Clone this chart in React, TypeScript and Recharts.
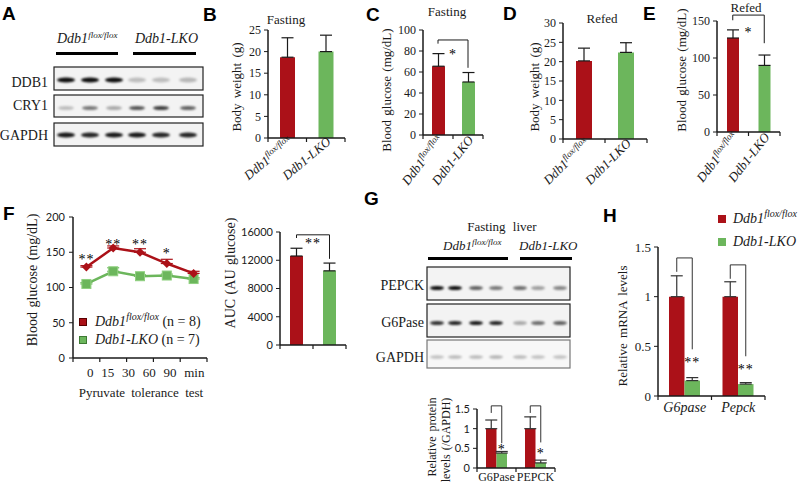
import React from 'react';
import {
  BarChart, Bar, Cell, XAxis, YAxis, ErrorBar, ReferenceLine, ComposedChart, Line, Legend,
} from 'recharts';

const RED = '#ab1118';
const GREEN = '#6cb65c';
const INK = '#1a1a1a';
const SERIF = '"Liberation Serif", "Times New Roman", serif';
const SANS = 'Lato, "Open Sans", "Liberation Sans", sans-serif';
const BOLD = '"Liberation Sans", Arial, sans-serif';

// ---------------- data ----------------
const genotypeBase = ['Ddb1', 'Ddb1-LKO'];
const genotypeSup = ['flox/flox', ''];

const fastingWeight = [18.7, 20.0];
const fastingWeightErr = [4.5, 3.8];
const fastingGlucose = [65.5, 50.5];
const fastingGlucoseErr = [12, 9];
const refedWeight = [20.2, 22.4];
const refedWeightErr = [3.3, 2.5];
const refedGlucose = [127, 90];
const refedGlucoseErr = [11, 14];

const weightTicks = [0, 5, 10, 15, 20, 25];
const weightTicksRefed = [0, 5, 10, 15, 20, 25, 30];
const glucoseTicksFasting = [0, 20, 40, 60, 80, 100];
const glucoseTicksRefed = [0, 50, 100, 150];

const pttMinutes = ['0', '15', '30', '60', '90'];
const pttFlox = [129, 156, 150, 134, 120];
const pttFloxErr = [2, 3, 5, 6, 3];
const pttLko = [105, 123, 116, 117, 112];
const pttLkoErr = [2, 5, 2, 2, 2];
const pttStars = ['**', '**', '**', '*', ''];
const pttStarLevel = [143, 164, 164, 151, null];
const pttGroupN = [8, 7];
const pttTicks = [0, 50, 100, 150, 200];

const aucGlucose = [12600, 10500];
const aucGlucoseErr = [1100, 1100];
const aucTicks = [0, 4000, 8000, 12000, 16000];

const proteinGenes = ['G6Pase', 'PEPCK'];
const proteinFlox = [1.0, 1.0];
const proteinFloxErr = [0.22, 0.3];
const proteinLko = [0.38, 0.13];
const proteinLkoErr = [0.04, 0.07];

const mrnaGenes = ['G6pase', 'Pepck'];
const mrnaFlox = [1.0, 1.0];
const mrnaFloxErr = [0.21, 0.15];
const mrnaLko = [0.155, 0.12];
const mrnaLkoErr = [0.03, 0.015];
const relTicks = [0, 0.5, 1, 1.5];

// significance brackets (data units)
const fastingGlucoseSig = { top: 90.5, left: 87, right: 64, mark: '*' };
const refedGlucoseSig = { top: 158, left: 151, right: 120, mark: '*' };
const aucSig = { top: 15600, left: 15150, right: 12200, mark: '**' };
const proteinSig = [
  { top: 1.58, left: 1.4, right: 0.63, mark: '*', level: 0.52 },
  { top: 1.58, left: 1.4, right: 0.65, mark: '*', level: 0.41 },
];
const mrnaSig = [
  { top: 1.39, left: 1.25, right: 0.47, mark: '**', level: 0.36 },
  { top: 1.32, left: 1.18, right: 0.4, mark: '**', level: 0.29 },
];

// western blot band intensities (0..1)
const ddb1Bands = [0.95, 0.95, 0.95, 0.22, 0.22, 0.25];
const cry1Bands = [0.22, 0.5, 0.3, 0.65, 0.75, 0.6];
const gapdhBandsA = [0.9, 0.85, 0.9, 0.9, 0.85, 0.85];
const pepckBands = [0.95, 0.95, 0.6, 0.5, 0.55, 0.35, 0.45];
const g6paseBands = [0.8, 0.85, 0.9, 0.85, 0.3, 0.55, 0.6];
const gapdhBandsG = [0.22, 0.25, 0.25, 0.28, 0.25, 0.22, 0.22];

// ---------------- helpers ----------------
const STAR_FILL = '#000';

function StarMark(props: any) {
  const vb = props.viewBox || {};
  const cx = (vb.x || 0) + (vb.width || 0) / 2;
  const cy = (vb.y || 0) + props.gap;
  return (
    <text x={cx} y={cy + 6.6} textAnchor="middle" fontFamily={SERIF} fontSize={14} fill={STAR_FILL} letterSpacing={1}>
      {props.mark}
    </text>
  );
}

function makeCatTick(o: { n: number; band: number; angle: number; labels: boolean; dx: number; dy: number }) {
  return function CatTick(props: any) {
    const { x, y, payload, index } = props;
    const half = typeof payload?.offset === 'number' && payload.offset > 0 ? payload.offset : o.band / 2;
    const i = index ?? 0;
    const tx = x + o.dx;
    const ty = y + o.dy;
    return (
      <g>
        <line x1={x - half} x2={x - half} y1={y} y2={y + 4} stroke={INK} strokeWidth={1.2} />
        {i === o.n - 1 && <line x1={x + half} x2={x + half} y1={y} y2={y + 4} stroke={INK} strokeWidth={1.2} />}
        {o.labels && (
          <text x={tx} y={ty} transform={`rotate(${o.angle} ${tx} ${ty})`} textAnchor="end"
            fontFamily={SERIF} fontStyle="italic" fontSize={13} fill={INK}>
            <tspan>{genotypeBase[i]}</tspan>
            {genotypeSup[i] ? <tspan fontSize={9} dy={-5}>{genotypeSup[i]}</tspan> : null}
          </text>
        )}
      </g>
    );
  };
}

function makeGeneTick(o: { n: number; band: number; italic: boolean; size: number; dy: number }) {
  return function GeneTick(props: any) {
    const { x, y, payload, index } = props;
    const half = typeof payload?.offset === 'number' && payload.offset > 0 ? payload.offset : o.band / 2;
    const i = index ?? 0;
    return (
      <g>
        <line x1={x - half} x2={x - half} y1={y} y2={y + 4} stroke={INK} strokeWidth={1.2} />
        {i === o.n - 1 && <line x1={x + half} x2={x + half} y1={y} y2={y + 4} stroke={INK} strokeWidth={1.2} />}
        <text x={x} y={y + o.dy} textAnchor="middle" fontFamily={SERIF} fontStyle={o.italic ? 'italic' : 'normal'}
          fontSize={o.size} fill={INK}>{payload.value}</text>
      </g>
    );
  };
}

type TwoProps = {
  L: number; T: number; R: number; B: number; yw: number;
  values: number[]; errs: number[]; domain: [number, number]; ticks: number[];
  tickFamily: string; tickFont: number; barSize: number; angle: number; labels: boolean;
  sig?: { top: number; left: number; right: number; mark: string }; sigGap?: number;
};

function TwoBarChart(p: TwoProps) {
  const mt = 24, mr = 6, xh = 70;
  const data = genotypeBase.map((g, i) => ({ g, v: p.values[i], e: [0, p.errs[i]] }));
  const band = (p.R - p.L) / 2;
  const g0 = genotypeBase[0], g1 = genotypeBase[1];
  return (
    <div style={{ position: 'absolute', left: p.L - p.yw, top: p.T - mt }}>
      <BarChart width={p.yw + p.R - p.L + mr} height={mt + p.B - p.T + xh} data={data}
        margin={{ top: mt, right: mr, left: 0, bottom: 0 }} barSize={p.barSize}>
        <XAxis dataKey="g" height={xh} tickSize={0} tickMargin={0} interval={0} tickLine={false}
          axisLine={{ stroke: INK, strokeWidth: 1.5 }}
          tick={makeCatTick({ n: 2, band, angle: p.angle, labels: p.labels, dx: 6, dy: 5 })} />
        <YAxis width={p.yw} domain={p.domain} ticks={p.ticks} interval={0} tickSize={4} tickMargin={3}
          axisLine={{ stroke: INK, strokeWidth: 1.5 }} tickLine={{ stroke: INK }}
          tick={{ fill: INK, fontFamily: p.tickFamily, fontSize: p.tickFont }} />
        <Bar dataKey="v" isAnimationActive={false}>
          {data.map((d, i) => <Cell key={d.g} fill={i === 0 ? RED : GREEN} />)}
          <ErrorBar dataKey="e" width={6} stroke={INK} strokeWidth={1.2} direction="y" />
        </Bar>
        {p.sig && (
          <ReferenceLine segment={[{ x: g0, y: p.sig.top }, { x: g1, y: p.sig.top }]} stroke={INK} strokeWidth={1}
            ifOverflow="visible" label={<StarMark mark={p.sig.mark} gap={p.sigGap ?? 10} />} />
        )}
        {p.sig && (
          <ReferenceLine segment={[{ x: g0, y: p.sig.top }, { x: g0, y: p.sig.left }]} stroke={INK} strokeWidth={1}
            ifOverflow="visible" />
        )}
        {p.sig && (
          <ReferenceLine segment={[{ x: g1, y: p.sig.top }, { x: g1, y: p.sig.right }]} stroke={INK} strokeWidth={1}
            ifOverflow="visible" />
        )}
      </BarChart>
    </div>
  );
}

function BracketBar(props: any) {
  const { x, y, width, height, fill, payload } = props;
  if (x == null || y == null || !payload) return null;
  const val = payload.lko;
  const base = y + height;
  const ppu = height / val;
  const Y = (v: number) => base - v * ppu;
  const lx = x - width / 2;
  const rx = x + width / 2;
  const s = payload.sig;
  return (
    <g>
      <rect x={x} y={y} width={width} height={height} fill={fill} />
      <path d={`M${lx},${Y(s.left)}V${Y(s.top)}H${rx}V${Y(s.right)}`} fill="none" stroke="#333" strokeWidth={1} />
      <text x={rx} y={Y(s.level) + 6.6} textAnchor="middle" fontFamily={SERIF} fontSize={14} fill={STAR_FILL} letterSpacing={1}>
        {s.mark}
      </text>
    </g>
  );
}

type GroupProps = {
  L: number; T: number; R: number; B: number; yw: number; mt: number;
  cats: string[]; flox: number[]; floxErr: number[]; lko: number[]; lkoErr: number[];
  sig: any[]; tickFamily: string; tickFont: number; barSize: number;
  italic: boolean; catSize: number; catDy: number; legend?: boolean;
};

function GroupChart(p: GroupProps) {
  const mr = 6, xh = 24;
  const data = p.cats.map((c, i) => ({
    c, flox: p.flox[i], lko: p.lko[i], fe: [0, p.floxErr[i]], le: [0, p.lkoErr[i]], sig: p.sig[i],
  }));
  const band = (p.R - p.L) / p.cats.length;
  return (
    <div style={{ position: 'absolute', left: p.L - p.yw, top: p.T - p.mt }}>
      <BarChart width={p.yw + p.R - p.L + mr} height={p.mt + p.B - p.T + xh} data={data}
        margin={{ top: p.mt, right: mr, left: 0, bottom: 0 }} barSize={p.barSize} barGap={0}>
        <XAxis dataKey="c" height={xh} tickSize={0} tickMargin={0} interval={0} tickLine={false}
          axisLine={{ stroke: INK, strokeWidth: 1.5 }}
          tick={makeGeneTick({ n: p.cats.length, band, italic: p.italic, size: p.catSize, dy: p.catDy })} />
        <YAxis width={p.yw} domain={[0, 1.5]} ticks={relTicks} interval={0} tickSize={4} tickMargin={3}
          axisLine={{ stroke: INK, strokeWidth: 1.5 }} tickLine={{ stroke: INK }}
          tick={{ fill: INK, fontFamily: p.tickFamily, fontSize: p.tickFont }} />
        <Bar dataKey="flox" fill={RED} isAnimationActive={false}>
          <ErrorBar dataKey="fe" width={6} stroke="#333" strokeWidth={1.2} direction="y" />
        </Bar>
        <Bar dataKey="lko" fill={GREEN} isAnimationActive={false} shape={(sp: any) => <BracketBar {...sp} />}>
          <ErrorBar dataKey="le" width={6} stroke="#333" strokeWidth={1.2} direction="y" />
        </Bar>
        {p.legend && (
          <Legend layout="vertical" align="center" verticalAlign="middle"
            wrapperStyle={{ left: 90, top: 0, width: 110 }} content={() => <MrnaLegend />} />
        )}
      </BarChart>
    </div>
  );
}

function GenoHtml({ i }: { i: number }) {
  return (
    <span style={{ fontStyle: 'italic', fontWeight: 'normal', fontFamily: SERIF }}>
      {genotypeBase[i]}
      {genotypeSup[i] ? <span style={{ fontSize: 10, position: 'relative', top: -6 }}>{genotypeSup[i]}</span> : null}
    </span>
  );
}

function MrnaLegend() {
  return (
    <div style={{ fontFamily: SERIF, fontSize: 14, color: INK, fontWeight: 'normal' }}>
      {[RED, GREEN].map((c, i) => (
        <div key={c} style={{ display: 'flex', alignItems: 'center', height: 23 }}>
          <span style={{ display: 'inline-block', width: 8, height: 8, background: c, marginRight: 7 }} />
          <GenoHtml i={i} />
        </div>
      ))}
    </div>
  );
}

function PttLegend() {
  return (
    <div style={{ fontFamily: SERIF, fontSize: 14, color: INK, whiteSpace: 'nowrap' }}>
      {[RED, GREEN].map((c, i) => (
        <div key={c} style={{ display: 'flex', alignItems: 'center', height: 18 }}>
          <span style={{ display: 'inline-block', width: 6, height: 6, background: c,
            border: `1px solid ${i === 0 ? '#5a0000' : '#3e7a33'}`, marginRight: 8 }} />
          <GenoHtml i={i} />
          <span>&nbsp;(n = {pttGroupN[i]})</span>
        </div>
      ))}
    </div>
  );
}

function DiamondDot(props: any) {
  const { cx, cy } = props;
  if (cx == null || cy == null) return null;
  const r = 4.5;
  return <path d={`M${cx},${cy - r}L${cx + r},${cy}L${cx},${cy + r}L${cx - r},${cy}Z`} fill={RED} />;
}

function SquareDot(props: any) {
  const { cx, cy } = props;
  if (cx == null || cy == null) return null;
  return <rect x={cx - 4.5} y={cy - 4.5} width={9} height={9} fill={GREEN} stroke="#8fd07f" strokeWidth={1} />;
}

function StarDot(props: any) {
  const { cx, cy, payload } = props;
  if (cx == null || cy == null || !payload?.star) return null;
  return (
    <text x={cx} y={cy + 6.6} textAnchor="middle" fontFamily={SERIF} fontSize={14} fill={STAR_FILL} letterSpacing={1}>
      {payload.star}
    </text>
  );
}

function PttChart() {
  const L = 73, R = 207, T = 217, B = 358, yw = 40, mt = 20, mr = 6, xh = 20;
  const data = pttMinutes.map((t, i) => ({
    t, flox: pttFlox[i], fe: [0, pttFloxErr[i]], lko: pttLko[i], le: [0, pttLkoErr[i]],
    star: pttStars[i], starY: pttStarLevel[i],
  }));
  const band = (R - L) / pttMinutes.length;
  const tick = (props: any) => {
    const { x, y, payload, index } = props;
    const half = typeof payload?.offset === 'number' && payload.offset > 0 ? payload.offset : band / 2;
    return (
      <g>
        <line x1={x - half} x2={x - half} y1={y} y2={y + 4} stroke={INK} strokeWidth={1.2} />
        {index === pttMinutes.length - 1 && <line x1={x + half} x2={x + half} y1={y} y2={y + 4} stroke={INK} strokeWidth={1.2} />}
      </g>
    );
  };
  return (
    <div style={{ position: 'absolute', left: L - yw, top: T - mt }}>
      <ComposedChart width={yw + R - L + mr} height={mt + B - T + xh} data={data}
        margin={{ top: mt, right: mr, left: 0, bottom: 0 }}>
        <XAxis dataKey="t" scale="band" height={xh} tickSize={0} tickMargin={0} interval={0} tickLine={false}
          axisLine={{ stroke: INK, strokeWidth: 1.5 }} tick={tick} />
        <YAxis width={yw} domain={[0, 200]} ticks={pttTicks} interval={0} tickSize={4} tickMargin={4}
          axisLine={{ stroke: INK, strokeWidth: 1.5 }} tickLine={{ stroke: INK }}
          tick={{ fill: INK, fontFamily: SANS, fontSize: 11 }} />
        <Line dataKey="lko" stroke={GREEN} strokeWidth={2.5} dot={<SquareDot />} activeDot={false}
          isAnimationActive={false} legendType="none">
          <ErrorBar dataKey="le" width={6} stroke={GREEN} strokeWidth={1.2} direction="y" />
        </Line>
        <Line dataKey="flox" stroke={RED} strokeWidth={2.5} dot={<DiamondDot />} activeDot={false}
          isAnimationActive={false} legendType="none">
          <ErrorBar dataKey="fe" width={6} stroke={RED} strokeWidth={1.2} direction="y" />
        </Line>
        <Line dataKey="starY" stroke="none" dot={<StarDot />} activeDot={false} isAnimationActive={false}
          legendType="none" />
        <Legend layout="vertical" align="center" verticalAlign="middle"
          wrapperStyle={{ left: 46, top: 116, width: 170 }} content={() => <PttLegend />} />
      </ComposedChart>
    </div>
  );
}

// ---------------- overlay (labels, blots) ----------------
function VLabel({ cx, cy, size = 13, family = SERIF, ws = 2, children }: any) {
  return (
    <text transform={`rotate(-90 ${cx} ${cy})`} x={cx} y={cy} textAnchor="middle" dominantBaseline="central"
      fontFamily={family} fontSize={size} fill={INK} style={{ wordSpacing: ws }}>{children}</text>
  );
}

function Blot({ x, y, w, h, lanes, bandY, bands, rx, ry, border = '#222', bg = '#f3f3f3' }: any) {
  return (
    <g>
      <rect x={x} y={y} width={w} height={h} fill={bg} stroke={border} strokeWidth={1.2} />
      <g filter="url(#bandBlur)">
        {lanes.map((lx: number, i: number) => (
          <ellipse key={i} cx={lx} cy={bandY} rx={rx} ry={ry} fill="#000" opacity={bands[i]} />
        ))}
      </g>
    </g>
  );
}

function Letter({ x, y, c }: any) {
  return <text x={x} y={y} fontFamily={BOLD} fontWeight="bold" fontSize={19} fill="#000">{c}</text>;
}

function GenoSvg({ x, y, i, size = 14, sup = 9, anchor = 'start' }: any) {
  return (
    <text x={x} y={y} fontFamily={SERIF} fontStyle="italic" fontSize={size} fill={INK} textAnchor={anchor}>
      <tspan>{genotypeBase[i]}</tspan>
      {genotypeSup[i] ? <tspan fontSize={sup} dy={-5}>{genotypeSup[i]}</tspan> : null}
    </text>
  );
}

function Overlay() {
  const lanesA = [66, 90, 114, 137, 161, 188];
  const lanesG = [437, 455, 476, 496, 520, 538, 560];
  const lbl = { fontFamily: SERIF, fontSize: 14, fill: INK } as any;
  return (
    <svg width={799} height={485} style={{ position: 'absolute', left: 0, top: 0, pointerEvents: 'none' }}>
      <defs>
        <filter id="bandBlur" x="-50%" y="-100%" width="200%" height="300%">
          <feGaussianBlur stdDeviation="1.3" />
        </filter>
      </defs>

      <Letter x={2} y={20} c="A" />
      <Letter x={203} y={21} c="B" />
      <Letter x={366} y={21} c="C" />
      <Letter x={503} y={20} c="D" />
      <Letter x={643} y={20} c="E" />
      <Letter x={3} y={220} c="F" />
      <Letter x={364} y={205} c="G" />
      <Letter x={603} y={222} c="H" />

      {/* Panel A */}
      <GenoSvg x={57} y={43} i={0} />
      <GenoSvg x={135} y={43} i={1} />
      <rect x={56} y={52} width={62} height={3} fill="#000" />
      <rect x={133} y={52} width={63} height={3} fill="#000" />
      <Blot x={54} y={67} w={149} h={23} lanes={lanesA} bandY={80} bands={ddb1Bands} rx={9} ry={2.6} />
      <Blot x={54} y={95} w={149} h={22} lanes={lanesA} bandY={108} bands={cry1Bands} rx={8} ry={2} />
      <Blot x={54} y={123} w={149} h={23} lanes={lanesA} bandY={135} bands={gapdhBandsA} rx={9} ry={2.4} />
      <text x={48} y={87} textAnchor="end" {...lbl}>DDB1</text>
      <text x={48} y={110} textAnchor="end" {...lbl}>CRY1</text>
      <text x={48} y={140} textAnchor="end" {...lbl}>GAPDH</text>

      {/* titles */}
      <text x={286} y={24} textAnchor="middle" fontFamily={SERIF} fontSize={13} fill={INK}>Fasting</text>
      <text x={447} y={16} textAnchor="middle" fontFamily={SERIF} fontSize={13} fill={INK}>Fasting</text>
      <text x={602} y={23} textAnchor="middle" fontFamily={SERIF} fontSize={13} fill={INK}>Refed</text>
      <text x={746} y={12} textAnchor="middle" fontFamily={SERIF} fontSize={13} fill={INK}>Refed</text>

      {/* y labels */}
      <VLabel cx={236} cy={87}>Body weight (g)</VLabel>
      <VLabel cx={386} cy={90} ws={1}>Blood glucose (mg/dL)</VLabel>
      <VLabel cx={534} cy={87}>Body weight (g)</VLabel>
      <VLabel cx={681} cy={70} ws={1}>Blood glucose (mg/dL)</VLabel>
      <VLabel cx={32} cy={280} size={14} ws={1}>Blood glucose (mg/dL)</VLabel>
      <VLabel cx={230} cy={273} size={14} ws={1}>AUC (AU glucose)</VLabel>
      <VLabel cx={622} cy={326} ws={2}>Relative mRNA levels</VLabel>
      <VLabel cx={432} cy={437} size={12} ws={2}>Relative protein</VLabel>
      <VLabel cx={446} cy={440} size={12} ws={1}>levels (/GAPDH)</VLabel>

      {/* F x labels */}
      <text x={87} y={377} fontFamily={SERIF} fontSize={13} fill={INK} style={{ wordSpacing: 4.5 }}>0 15 30 60 90 min</text>
      <text x={141} y={397} textAnchor="middle" fontFamily={SERIF} fontSize={13} fill={INK} style={{ wordSpacing: 3 }}>Pyruvate tolerance test</text>

      {/* Panel G */}
      <text x={502} y={231} textAnchor="middle" fontFamily={SERIF} fontSize={13} fill={INK} style={{ wordSpacing: 4 }}>Fasting liver</text>
      <GenoSvg x={443} y={250} i={0} size={13} sup={9} />
      <GenoSvg x={519} y={250} i={1} size={13} />
      <rect x={428} y={257} width={80} height={3} fill="#000" />
      <rect x={520} y={257} width={52} height={3} fill="#000" />
      <Blot x={427} y={267} w={143} h={33} lanes={lanesG} bandY={288} bands={pepckBands} rx={7} ry={2} />
      <Blot x={427} y={304} w={143} h={33} lanes={lanesG} bandY={323} bands={g6paseBands} rx={7} ry={2} />
      <Blot x={427} y={340} w={143} h={28} lanes={lanesG} bandY={357} bands={gapdhBandsG} rx={7} ry={1.8} border="#777" bg="#f7f7f7" />
      <text x={424} y={290} textAnchor="end" {...lbl}>PEPCK</text>
      <text x={424} y={327} textAnchor="end" {...lbl}>G6Pase</text>
      <text x={424} y={362} textAnchor="end" {...lbl}>GAPDH</text>
    </svg>
  );
}

export default function App() {
  return (
    <div style={{ position: 'absolute', left: 0, top: 0, width: 799, height: 485, background: '#fff', overflow: 'hidden', fontFamily: SERIF }}>
      <style>{`.recharts-surface{overflow:visible}.recharts-wrapper{overflow:visible}`}</style>

      <TwoBarChart L={268} T={30} R={345} B={138} yw={30} values={fastingWeight} errs={fastingWeightErr}
        domain={[0, 25]} ticks={weightTicks} tickFamily={SERIF} tickFont={12} barSize={15} angle={-40} labels />
      <TwoBarChart L={423} T={30} R={483} B={135} yw={30} values={fastingGlucose} errs={fastingGlucoseErr}
        domain={[0, 100]} ticks={glucoseTicksFasting} tickFamily={SERIF} tickFont={12} barSize={13} angle={-52} labels
        sig={fastingGlucoseSig} sigGap={12} />
      <TwoBarChart L={563} T={23} R={647} B={139} yw={30} values={refedWeight} errs={refedWeightErr}
        domain={[0, 30]} ticks={weightTicksRefed} tickFamily={SERIF} tickFont={12} barSize={16} angle={-45} labels />
      <TwoBarChart L={717} T={21} R={780} B={132} yw={30} values={refedGlucose} errs={refedGlucoseErr}
        domain={[0, 150]} ticks={glucoseTicksRefed} tickFamily={SERIF} tickFont={12} barSize={12} angle={-52} labels
        sig={refedGlucoseSig} sigGap={15} />

      <PttChart />
      <TwoBarChart L={280} T={232} R={346} B={345} yw={40} values={aucGlucose} errs={aucGlucoseErr}
        domain={[0, 16000]} ticks={aucTicks} tickFamily={SANS} tickFont={11} barSize={13} angle={0} labels={false}
        sig={aucSig} sigGap={7} />

      <GroupChart L={477} T={409} R={555} B={468} yw={30} mt={20} cats={proteinGenes} flox={proteinFlox}
        floxErr={proteinFloxErr} lko={proteinLko} lkoErr={proteinLkoErr} sig={proteinSig} tickFamily={SANS}
        tickFont={11} barSize={10.5} italic={false} catSize={12} catDy={13} />
      <GroupChart L={658} T={247} R={765} B={396} yw={30} mt={40} cats={mrnaGenes} flox={mrnaFlox}
        floxErr={mrnaFloxErr} lko={mrnaLko} lkoErr={mrnaLkoErr} sig={mrnaSig} tickFamily={SERIF}
        tickFont={13} barSize={15.5} italic catSize={14} catDy={16} legend />

      <Overlay />
    </div>
  );
}
